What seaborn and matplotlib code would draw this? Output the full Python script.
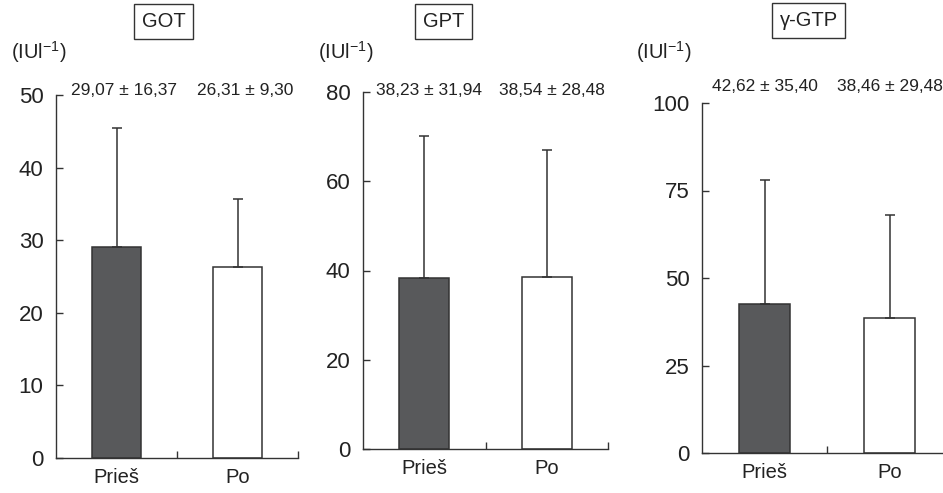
import matplotlib
matplotlib.use("Agg")
import matplotlib.pyplot as plt
import seaborn as sns
import pandas as pd

# ---- data ----
categories = ["Prieš", "Po"]
panel_titles = ["GOT", "GPT", "γ-GTP"]
got_mean = [29.07, 26.31]
got_sd = [16.37, 9.30]
gpt_mean = [38.23, 38.54]
gpt_sd = [31.94, 28.48]
ggtp_mean = [42.62, 38.46]
ggtp_sd = [35.40, 29.48]
got_ticks = [0, 10, 20, 30, 40, 50]
gpt_ticks = [0, 20, 40, 60, 80]
ggtp_ticks = [0, 25, 50, 75, 100]
unit_label = r"$\mathrm{(IUl}^{-1}\mathrm{)}$"

sns.set_theme(style="ticks")
plt.rcParams["font.family"] = ["Liberation Sans", "DejaVu Sans"]
plt.rcParams["mathtext.fontset"] = "custom"
plt.rcParams["mathtext.rm"] = "Liberation Sans"
plt.rcParams["mathtext.it"] = "Liberation Sans:italic"
plt.rcParams["mathtext.bf"] = "Liberation Sans:bold"

W, H = 943, 493
fig = plt.figure(figsize=(W / 100, H / 100), dpi=100)

ink = "#222222"
line = "#333333"
dark = "#58595b"

# layout in pixels: (left, right, y_zero, y_top)
layouts = [
    (56, 298, 458, 95),
    (363, 608, 449, 92),
    (702, 952, 453, 103),
]
title_pos = [(163.5, 21.5), (443.5, 21.5), (808.5, 20.5)]
unit_pos = [(11, 52), (318, 52), (636, 52)]
annot_y = [50.6, 80.3, 104.8]
annot_dx = [0.06, 0.04, 0.0]

means_all = [got_mean, gpt_mean, ggtp_mean]
sds_all = [got_sd, gpt_sd, ggtp_sd]
ticks_all = [got_ticks, gpt_ticks, ggtp_ticks]


def fmt(v):
    return f"{v:.2f}".replace(".", ",")


for i in range(3):
    l, r, y0, yt = layouts[i]
    ax = fig.add_axes([l / W, 1 - y0 / H, (r - l) / W, (y0 - yt) / H])
    df = pd.DataFrame({"cat": categories, "val": means_all[i]})
    sns.barplot(data=df, x="cat", y="val", hue="cat", palette=[dark, "white"],
                edgecolor=line, linewidth=1.1, width=0.41, legend=False,
                errorbar=None, ax=ax)
    ax.errorbar(range(len(categories)), means_all[i],
                yerr=[[0] * len(categories), sds_all[i]], fmt="none",
                ecolor=line, elinewidth=1.1, capsize=3.5, capthick=1.1)
    ticks = ticks_all[i]
    ax.set_ylim(ticks[0], ticks[-1])
    ax.set_xlim(-0.5, 1.5)
    ax.set_yticks(ticks)
    ax.set_xlabel("")
    ax.set_ylabel("")
    ax.set_xticks([0.5, 1.5], minor=True)
    ax.tick_params(axis="x", which="major", length=0, pad=7, labelsize=14.5, colors=ink)
    ax.tick_params(axis="x", which="minor", direction="in", length=5, width=1.0, color=line)
    ax.tick_params(axis="y", direction="in", length=5, width=1.0, pad=9,
                   labelsize=16, colors=ink, color=line)
    for s in ["top", "right"]:
        ax.spines[s].set_visible(False)
    for s in ["left", "bottom"]:
        ax.spines[s].set_color(line)
        ax.spines[s].set_linewidth(1.0)
    ax.patch.set_alpha(0)
    for j in range(len(categories)):
        ax.text(j + annot_dx[i], annot_y[i],
                f"{fmt(means_all[i][j])} ± {fmt(sds_all[i][j])}",
                ha="center", va="center", fontsize=12.5, color=ink, clip_on=False)
    tx, ty = title_pos[i]
    fig.text(tx / W, 1 - ty / H, panel_titles[i], ha="center", va="center",
             fontsize=14.5, color=ink,
             bbox=dict(boxstyle="square,pad=0.38", fc="white", ec=line, lw=1.0))
    ux, uy = unit_pos[i]
    fig.text(ux / W, 1 - uy / H, unit_label, ha="left", va="center",
             fontsize=14.5, color=ink)

fig.savefig("out.png", dpi=100, facecolor="white")
